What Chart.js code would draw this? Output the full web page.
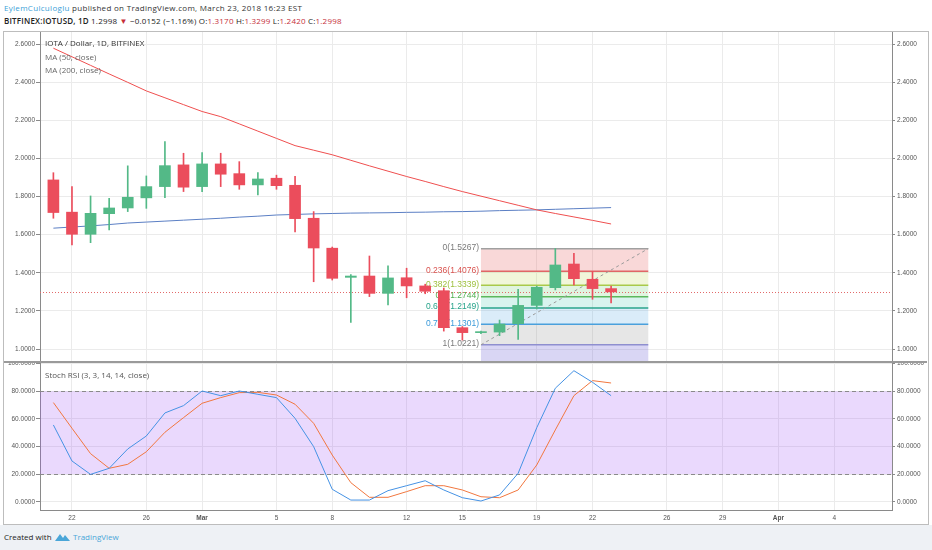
<!DOCTYPE html>
<html>
<head>
<meta charset="utf-8">
<script src="https://cdn.jsdelivr.net/npm/chart.js@4.4.1/dist/chart.umd.min.js"></script>
<style>
html,body{margin:0;padding:0;width:932px;height:550px;overflow:hidden;background:#fff;font-family:"Open Sans",sans-serif;}
#hdr1{position:absolute;left:4px;top:2px;font-size:8px;letter-spacing:0.3px;color:#333;white-space:nowrap;}
#hdr1 .user{color:#3c9fd8;}
#hdr2{position:absolute;left:4px;top:15px;font-size:8px;letter-spacing:0.2px;color:#222;white-space:nowrap;}
#hdr2 b{font-weight:600;}
#hdr2 .rd{color:#c62f3a;}
#frame{position:absolute;left:3px;top:31px;width:924px;height:492px;border:1px solid #bdbdbd;background:#fff;}
#footer{position:absolute;left:0;top:525px;width:932px;height:25px;background:#eef1f5;}
#footer .t{position:absolute;left:4px;top:6px;font-size:8px;color:#222;}
#footer .tv{position:absolute;left:73px;top:6px;font-size:8px;color:#4aa6d8;}
#footer svg{position:absolute;left:55px;top:7px;}
#cv{position:absolute;left:0;top:0;}
.lg{position:absolute;font-size:8px;white-space:nowrap;}
</style>
</head>
<body>
<div id="hdr1"><span class="user">EylemCulculoglu</span> published on TradingView.com, March 23, 2018 16:23 EST</div>
<div id="hdr2"><b>BITFINEX:IOTUSD, 1D</b> 1.2998 <span class="rd">▼</span> −0.0152 (−1.16%) O:<span class="rd">1.3170</span> H:<span class="rd">1.3299</span> L:<span class="rd">1.2420</span> C:<span class="rd">1.2998</span></div>
<div id="frame"></div>
<div id="footer"><span class="t">Created with</span>
<svg width="15" height="10" viewBox="0 0 15 10"><path d="M0 9 L5 2 L8 6 L10 3 L15 9 Z" fill="#4aa6d8"/></svg>
<span class="tv">TradingView</span></div>
<canvas id="cv" width="932" height="550"></canvas>
<div class="lg" style="left:45px;top:37px;color:#333;">IOTA / Dollar, 1D, BITFINEX</div>
<div class="lg" style="left:45px;top:51px;color:#666;">MA (50, close)</div>
<div class="lg" style="left:45px;top:64px;color:#666;">MA (200, close)</div>
<div class="lg" style="left:45px;top:369px;color:#555;">Stoch RSI (3, 3, 14, 14, close)</div>
<script>
// ---- data ----
const dates = ['2018-02-21','2018-02-22','2018-02-23','2018-02-24','2018-02-25','2018-02-26','2018-02-27','2018-02-28',
  '2018-03-01','2018-03-02','2018-03-03','2018-03-04','2018-03-05','2018-03-06','2018-03-07','2018-03-08','2018-03-09',
  '2018-03-10','2018-03-11','2018-03-12','2018-03-13','2018-03-14','2018-03-15','2018-03-16','2018-03-17','2018-03-18',
  '2018-03-19','2018-03-20','2018-03-21','2018-03-22','2018-03-23'];
const openP  = [1.887,1.718,1.602,1.710,1.740,1.793,1.852,1.966,1.852,1.971,1.920,1.861,1.896,1.859,1.686,1.529,1.376,1.383,1.292,1.374,1.331,1.306,1.112,1.086,1.089,1.133,1.229,1.322,1.446,1.366,1.3170];
const highP  = [1.925,1.852,1.803,1.791,1.961,1.908,2.088,2.027,2.030,2.027,1.983,1.925,1.912,1.906,1.721,1.535,1.390,1.488,1.437,1.424,1.340,1.320,1.118,1.094,1.152,1.313,1.330,1.527,1.502,1.406,1.3299];
const lowP   = [1.686,1.546,1.558,1.625,1.721,1.738,1.794,1.826,1.826,1.852,1.838,1.808,1.838,1.614,1.353,1.362,1.140,1.275,1.231,1.269,1.290,1.094,1.047,1.080,1.070,1.051,1.210,1.310,1.336,1.261,1.2420];
const closeP = [1.716,1.602,1.712,1.740,1.796,1.852,1.962,1.849,1.971,1.917,1.861,1.892,1.857,1.684,1.530,1.371,1.383,1.292,1.373,1.331,1.303,1.112,1.086,1.091,1.131,1.229,1.324,1.441,1.369,1.317,1.2998];
const ma50   = [2.578,2.533,2.488,2.443,2.399,2.354,2.318,2.282,2.246,2.219,2.181,2.143,2.105,2.067,2.043,2.019,1.990,1.961,1.933,1.905,1.879,1.852,1.826,1.802,1.778,1.754,1.730,1.711,1.693,1.675,1.656];
const ma200  = [1.634,1.640,1.646,1.653,1.661,1.666,1.671,1.676,1.681,1.686,1.692,1.697,1.703,1.706,1.709,1.711,1.713,1.714,1.715,1.717,1.718,1.720,1.721,1.723,1.726,1.728,1.730,1.733,1.736,1.739,1.742];
const stochK = [55.6,29.5,19.8,24.2,38.2,47.6,64.3,69.6,80.2,76.8,80.2,77.8,75.4,60.4,39.9,9.0,1.2,1.2,8.0,11.6,15.2,8.5,2.9,0.5,4.9,20.6,53.6,82.2,94.9,86.5,76.8];
const stochD = [71.8,53.2,34.8,24.2,27.1,36.2,50.3,60.9,71.3,75.4,79.0,79.2,77.3,70.6,56.8,33.8,13.8,3.2,3.2,7.3,11.6,11.6,8.5,3.6,2.9,8.5,26.6,52.0,76.8,87.7,86.0];
const xTickIdx    = [1,5,8,12,15,19,22,26,29,33,36,39,42];
const xTickLabels = ['22','26','Mar','5','8','12','15','19','22','26','29','Apr','4'];
const priceTicks  = [1.0,1.2,1.4,1.6,1.8,2.0,2.2,2.4,2.6];
const rsiTicks    = [0,20,40,60,80,100];
const rsiBand     = [20,80];
const fibAnchorIdx   = [23,32];
const fibAnchorPrice = [1.0221,1.5267];
const fibRatios      = [0,0.236,0.382,0.5,0.618,0.786,1,1.618];
const lastPrice = closeP[closeP.length-1];

// ---- styles ----
const UP='#53b987', DOWN='#eb4d5c';
const fibLine  = ['#a0a0a0','#e06666','#a9c94a','#5cb85c','#2aa58c','#4aa0dc','#8f8fcf','#6a6ad6'];
const fibText  = ['#7a7a7a','#d9534f','#9dbf3c','#4cae4c','#26a38a','#3b9ad9','#7a7a7a','#6a6ad6'];
const fibFill  = ['rgba(232,90,90,0.24)','rgba(185,210,70,0.2)','rgba(100,200,100,0.2)','rgba(40,190,160,0.18)',
                  'rgba(70,160,225,0.2)','rgba(128,128,128,0.2)','rgba(95,85,210,0.24)'];
const AX_FONT = {family:'"Liberation Sans", Arial, sans-serif', size:6.5};

const idx = dates.map((d,i)=>i);
const candleColor = idx.map(i => closeP[i] >= openP[i] ? UP : DOWN);

const overlay = {
  id:'tvOverlay',
  beforeDatasetsDraw(chart){
    const {ctx, chartArea:ca, scales} = chart;
    const x = scales.x, y = scales.y, r = scales.yRsi;
    ctx.save();
    // RSI band
    const yb80 = r.getPixelForValue(rsiBand[1]), yb20 = r.getPixelForValue(rsiBand[0]);
    ctx.fillStyle = 'rgba(160,80,245,0.22)';
    ctx.fillRect(ca.left, yb80, ca.right-ca.left, yb20-yb80);
    ctx.strokeStyle = '#8a8a8a'; ctx.lineWidth = 1; ctx.setLineDash([4,3]);
    rsiBand.forEach(v => { const py = Math.round(r.getPixelForValue(v))+0.5; ctx.beginPath(); ctx.moveTo(ca.left,py); ctx.lineTo(ca.right,py); ctx.stroke(); });
    ctx.setLineDash([]);
    // clip to price panel
    ctx.beginPath(); ctx.rect(ca.left, y.top, ca.right-ca.left, y.bottom-y.top); ctx.clip();
    // fib retracement
    const x0 = x.getPixelForValue(fibAnchorIdx[0]), x1 = x.getPixelForValue(fibAnchorIdx[1]);
    const lo = fibAnchorPrice[0], hi = fibAnchorPrice[1];
    const lv = fibRatios.map(rt => hi - rt*(hi-lo));
    for (let k=0;k<lv.length-1;k++){
      const ya = y.getPixelForValue(lv[k]), yb = y.getPixelForValue(lv[k+1]);
      ctx.fillStyle = fibFill[k];
      ctx.fillRect(x0, ya, x1-x0, yb-ya);
    }
    ctx.lineWidth = 1.5;
    lv.forEach((p,k) => {
      const py = y.getPixelForValue(p);
      ctx.strokeStyle = fibLine[k];
      ctx.beginPath(); ctx.moveTo(x0,py); ctx.lineTo(x1,py); ctx.stroke();
    });
    ctx.font = '8.5px "Liberation Sans", Arial, sans-serif';
    ctx.textAlign = 'right'; ctx.textBaseline = 'middle';
    lv.forEach((p,k) => {
      if (fibRatios[k] > 1) return;
      ctx.fillStyle = fibText[k];
      ctx.fillText(fibRatios[k] + '(' + p.toFixed(4) + ')', x0-2, y.getPixelForValue(p)-1);
    });
    // trend line
    ctx.strokeStyle = '#9a9a9a'; ctx.lineWidth = 1; ctx.setLineDash([3,3]);
    ctx.beginPath(); ctx.moveTo(x0, y.getPixelForValue(lo)); ctx.lineTo(x1, y.getPixelForValue(hi)); ctx.stroke();
    // last price line
    ctx.strokeStyle = '#e26a6a'; ctx.setLineDash([1,2]);
    const pl = Math.round(y.getPixelForValue(lastPrice))+0.5;
    ctx.beginPath(); ctx.moveTo(ca.left,pl); ctx.lineTo(ca.right,pl); ctx.stroke();
    ctx.restore();
  },
  afterDraw(chart){
    const {ctx, scales} = chart;
    const sep = Math.round(scales.y.bottom);
    ctx.save();
    ctx.fillStyle = '#ffffff';
    ctx.fillRect(4, sep-6, scales.y.right-4-1, 6);
    ctx.fillRect(scales.yR.left+1, sep-6, 927-scales.yR.left-1, 6);
    ctx.fillStyle = '#9a9a9a';
    ctx.fillRect(4, sep-1, 923, 2);
    ctx.restore();
  }
};

const yAxis = (pos, stack, weight, min, max, ticks, grid, sw) => ({
  type:'linear', axis:'y', position:pos, stack:stack, stackWeight:sw, weight:weight, min:min, max:max,
  afterBuildTicks: s => { s.ticks = ticks.map(v => ({value:v})); },
  afterFit: s => { s.width = 40; },
  grid: {display:true, drawOnChartArea:grid, color:'#ebebeb', tickColor:'#8a8a8a', tickLength: pos==='left'?4:3, drawTicks:true},
  border: {display:true, color:'#8a8a8a'},
  ticks: {font:AX_FONT, color:'#555', padding: pos==='left'?1:2, callback: v => Number(v).toFixed(4)}
});

new Chart(document.getElementById('cv'), {
  data: {
    datasets: [
      {type:'bar', label:'body', xAxisID:'x', yAxisID:'y', order:0, grouped:false, barThickness:11, minBarLength:1,
       data: idx.map(i => ({x:i, y:[openP[i], closeP[i]]})), backgroundColor:candleColor, borderWidth:0},
      {type:'bar', label:'wick', xAxisID:'x', yAxisID:'y', order:1, grouped:false, barThickness:1,
       data: idx.map(i => ({x:i, y:[lowP[i], highP[i]]})), backgroundColor:candleColor, borderWidth:0},
      {type:'line', label:'MA 50', xAxisID:'x', yAxisID:'y', order:2, data: idx.map(i => ({x:i, y:ma50[i]})),
       borderColor:'#ef4f4f', borderWidth:1, pointRadius:0, tension:0, fill:false},
      {type:'line', label:'MA 200', xAxisID:'x', yAxisID:'y', order:2, data: idx.map(i => ({x:i, y:ma200[i]})),
       borderColor:'#5b7fc4', borderWidth:1, pointRadius:0, tension:0, fill:false},
      {type:'line', label:'%K', xAxisID:'x', yAxisID:'yRsi', order:3, data: idx.map(i => ({x:i, y:stochK[i]})),
       borderColor:'#4592e4', borderWidth:1, pointRadius:0, tension:0, fill:false},
      {type:'line', label:'%D', xAxisID:'x', yAxisID:'yRsi', order:4, data: idx.map(i => ({x:i, y:stochD[i]})),
       borderColor:'#f1773f', borderWidth:1, pointRadius:0, tension:0, fill:false}
    ]
  },
  options: {
    responsive:false, animation:false, devicePixelRatio:1,
    layout:{padding:{top:32, bottom:26, left:0, right:0}},
    plugins:{legend:{display:false}, tooltip:{enabled:false}},
    scales:{
      x:{type:'linear', axis:'x', position:'bottom', min:-0.72, max:45.11, offset:false,
         afterBuildTicks: s => { s.ticks = xTickIdx.map(v => ({value:v})); },
         afterFit: s => { s.height = 14; },
         grid:{color:'#ebebeb', drawTicks:false, offset:false},
         border:{color:'#8a8a8a'},
         ticks:{color:'#555', padding:4, maxRotation:0, autoSkip:false,
           font: c => ({family:AX_FONT.family, size:6.5, weight: (c.tick && isNaN(Number(xTickLabels[xTickIdx.indexOf(c.tick.value)]))) ? 'bold' : 'normal'}),
           callback: v => xTickLabels[xTickIdx.indexOf(v)]}
      },
      y:     yAxis('left','L',1,0.932,2.663,priceTicks,true,330),
      yR:    yAxis('right','R',0,0.932,2.663,priceTicks,false,330),
      yRsi:  yAxis('left','L',0,-6,101.2,rsiTicks,true,148),
      yRsiR: yAxis('right','R',1,-6,101.2,rsiTicks,false,148)
    }
  },
  plugins:[overlay]
});
</script>
</body>
</html>
